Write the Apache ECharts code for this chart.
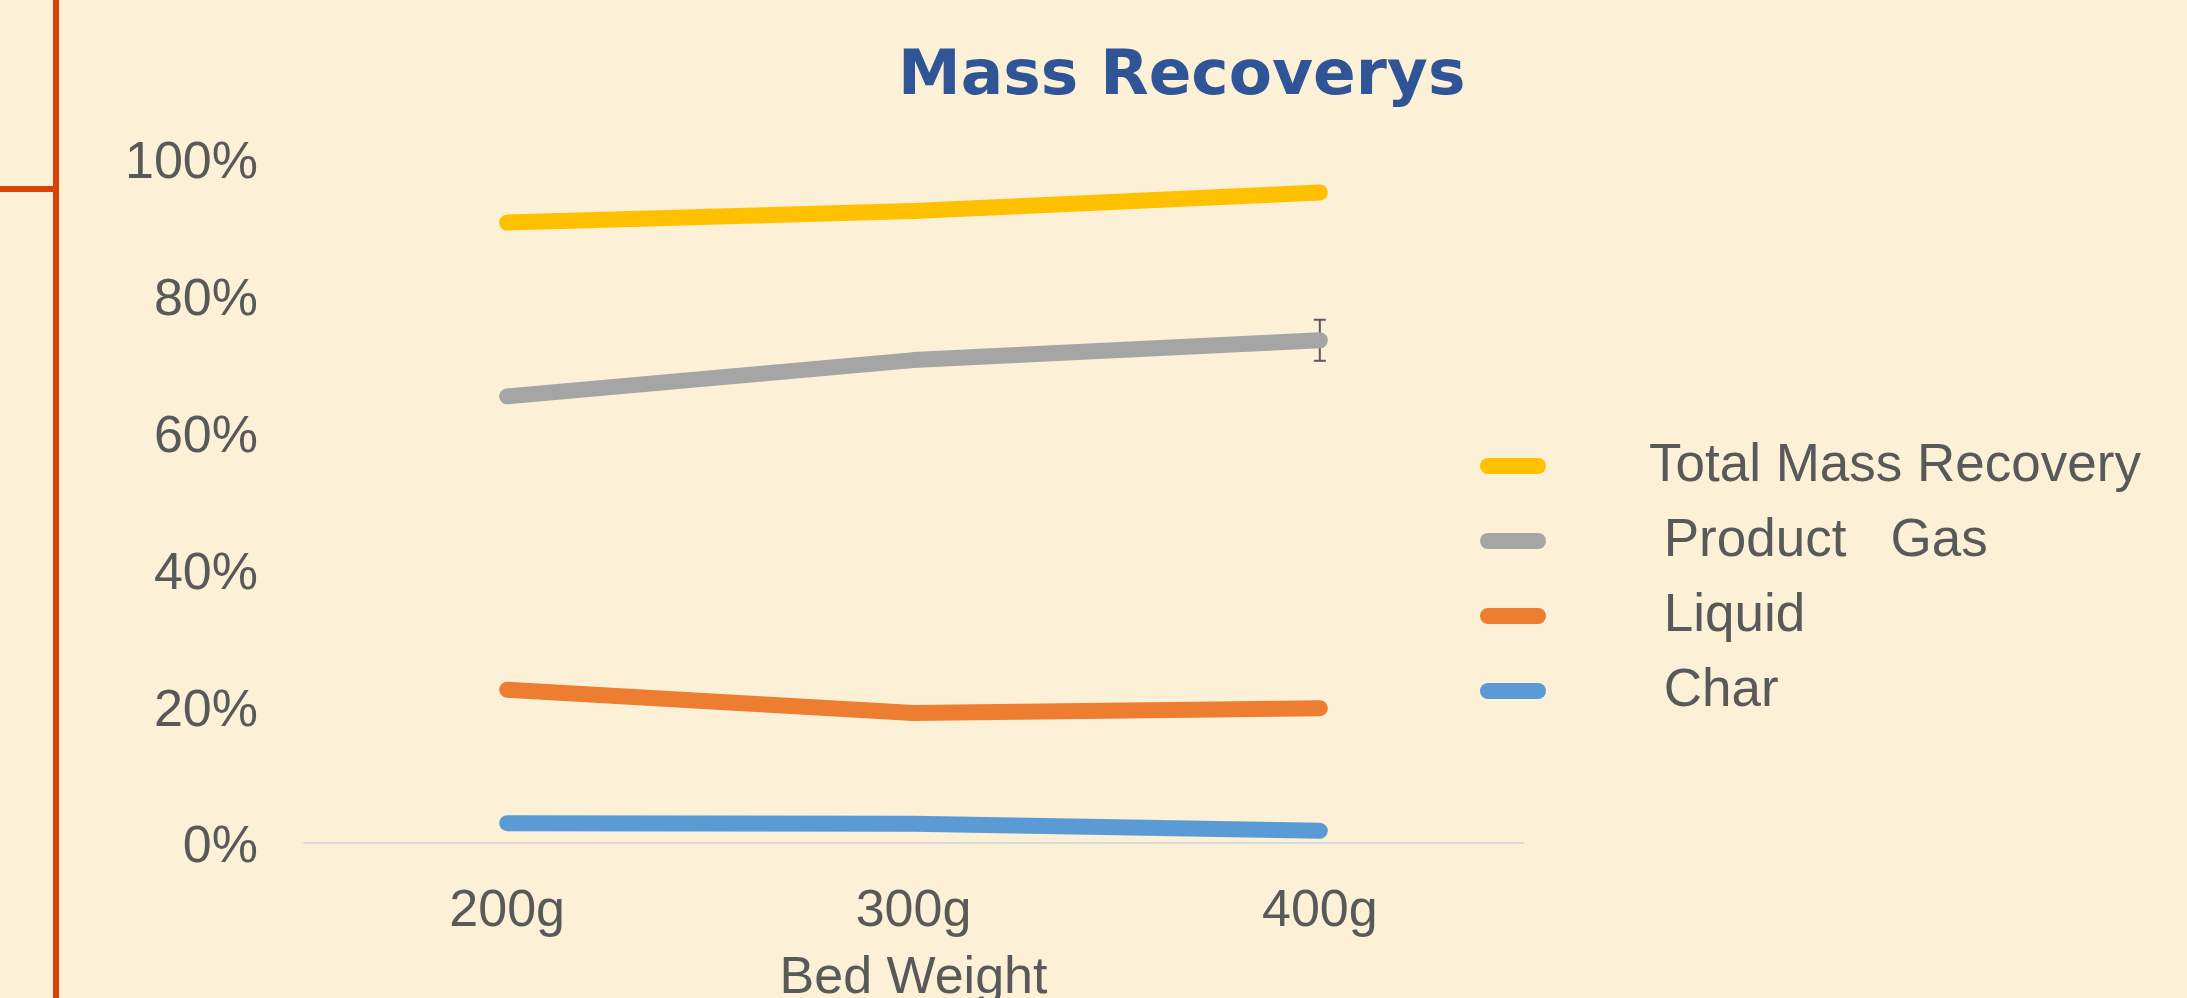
<!DOCTYPE html>
<html>
<head>
<meta charset="utf-8">
<title>Mass Recoverys</title>
<script src="https://cdn.jsdelivr.net/npm/echarts@6/dist/echarts.min.js"></script>
<style>
  html, body { margin: 0; padding: 0; background: #FCF0D6; }
  #chart { width: 2187px; height: 998px; }
</style>
</head>
<body>
<div id="chart"></div>
<script>
// Bed weights tested
const categories = ['200g', '300g', '400g'];

// Recoveries, in percent of feed mass
const totalRecovery = [90.7, 92.4, 95.1];
const productGas    = [65.3, 70.6, 73.5];
const liquid        = [22.4, 19.0, 19.7];
const charYield     = [2.9, 2.8, 1.8];

// Error (±) on the product gas recovery
const gasError = [0, 0, 3.0];

// Series names as shown in the legend
const seriesNames = ['Total Mass Recovery', ' Product   Gas', ' Liquid', ' Char'];
const seriesColors = ['#FFC000', '#A5A5A5', '#ED7D31', '#5B9BD5'];
const seriesValues = [totalRecovery, productGas, liquid, charYield];

const FONT = '"Liberation Sans", Arial, Helvetica, sans-serif';
const TEXT = '#595959';

const chart = echarts.init(document.getElementById('chart'), null, { renderer: 'canvas' });

const lineSeries = seriesNames.map((name, i) => ({
  name: name,
  type: 'line',
  data: seriesValues[i],
  showSymbol: false,
  symbol: 'none',
  z: 3,
  lineStyle: { color: seriesColors[i], width: 16, cap: 'round', join: 'round' },
  itemStyle: { color: seriesColors[i] },
  emphasis: { disabled: true }
}));

// Error bars for the product gas line, drawn beneath it
const errorData = productGas.map((v, i) => [i, v, gasError[i]]);
const errorSeries = {
  type: 'custom',
  name: 'gasError',
  z: 2,
  silent: true,
  data: errorData,
  renderItem: function (params, api) {
    const idx = api.value(0);
    const val = api.value(1);
    const err = api.value(2);
    if (!err) return null;
    const top = api.coord([idx, val + err]);
    const bottom = api.coord([idx, val - err]);
    const half = 6;
    const style = { stroke: '#595959', lineWidth: 2 };
    return {
      type: 'group',
      children: [
        { type: 'line', shape: { x1: top[0], y1: top[1], x2: bottom[0], y2: bottom[1] }, style: style },
        { type: 'line', shape: { x1: top[0] - half, y1: top[1], x2: top[0] + half, y2: top[1] }, style: style },
        { type: 'line', shape: { x1: bottom[0] - half, y1: bottom[1], x2: bottom[0] + half, y2: bottom[1] }, style: style }
      ]
    };
  }
};

const option = {
  backgroundColor: '#FCF0D6',
  animation: false,
  title: {
    text: 'Mass Recoverys',
    left: 893,
    top: 41,
    textStyle: {
      fontFamily: '"DejaVu Sans", Arial, sans-serif',
      fontWeight: 'bold',
      fontSize: 63,
      color: '#2F5597'
    }
  },
  legend: {
    orient: 'vertical',
    left: 1475,
    top: 433,
    itemWidth: 66,
    itemHeight: 16,
    itemGap: 19,
    icon: 'path://M8,0 L58,0 A8,8 0 0 1 58,16 L8,16 A8,8 0 0 1 8,0 Z',
    data: seriesNames,
    selectedMode: false,
    textStyle: {
      fontFamily: FONT,
      fontSize: 53,
      lineHeight: 56,
      color: TEXT,
      padding: [0, 0, 0, 98]
    }
  },
  grid: {
    left: 304,
    right: 664,
    top: 159,
    bottom: 155,
    containLabel: false,
    outerBoundsMode: 'none'
  },
  xAxis: {
    type: 'category',
    data: categories,
    boundaryGap: true,
    name: 'Bed Weight',
    nameLocation: 'middle',
    nameGap: 110,
    nameTextStyle: { fontFamily: FONT, fontSize: 52, color: TEXT },
    axisLine: { show: true, lineStyle: { color: '#D9D9D9', width: 2 } },
    axisTick: { show: false },
    axisLabel: { fontFamily: FONT, fontSize: 52, color: TEXT, margin: 43 },
    splitLine: { show: false }
  },
  yAxis: {
    type: 'value',
    min: 0,
    max: 100,
    interval: 20,
    axisLine: { show: false },
    axisTick: { show: false },
    splitLine: { show: false },
    axisLabel: {
      fontFamily: FONT,
      fontSize: 52,
      color: TEXT,
      margin: 46,
      verticalAlign: 'top',
      lineHeight: 10,
      formatter: '{value}%'
    }
  },
  graphic: [
    // slide frame accent on the left edge
    {
      type: 'line',
      silent: true,
      shape: { x1: 56, y1: 0, x2: 56, y2: 998 },
      style: { stroke: '#D9430A', lineWidth: 6 }
    },
    {
      type: 'line',
      silent: true,
      shape: { x1: 0, y1: 189, x2: 56, y2: 189 },
      style: { stroke: '#D9430A', lineWidth: 6 }
    }
  ],
  series: lineSeries.concat([errorSeries])
};

chart.setOption(option);
</script>
</body>
</html>
